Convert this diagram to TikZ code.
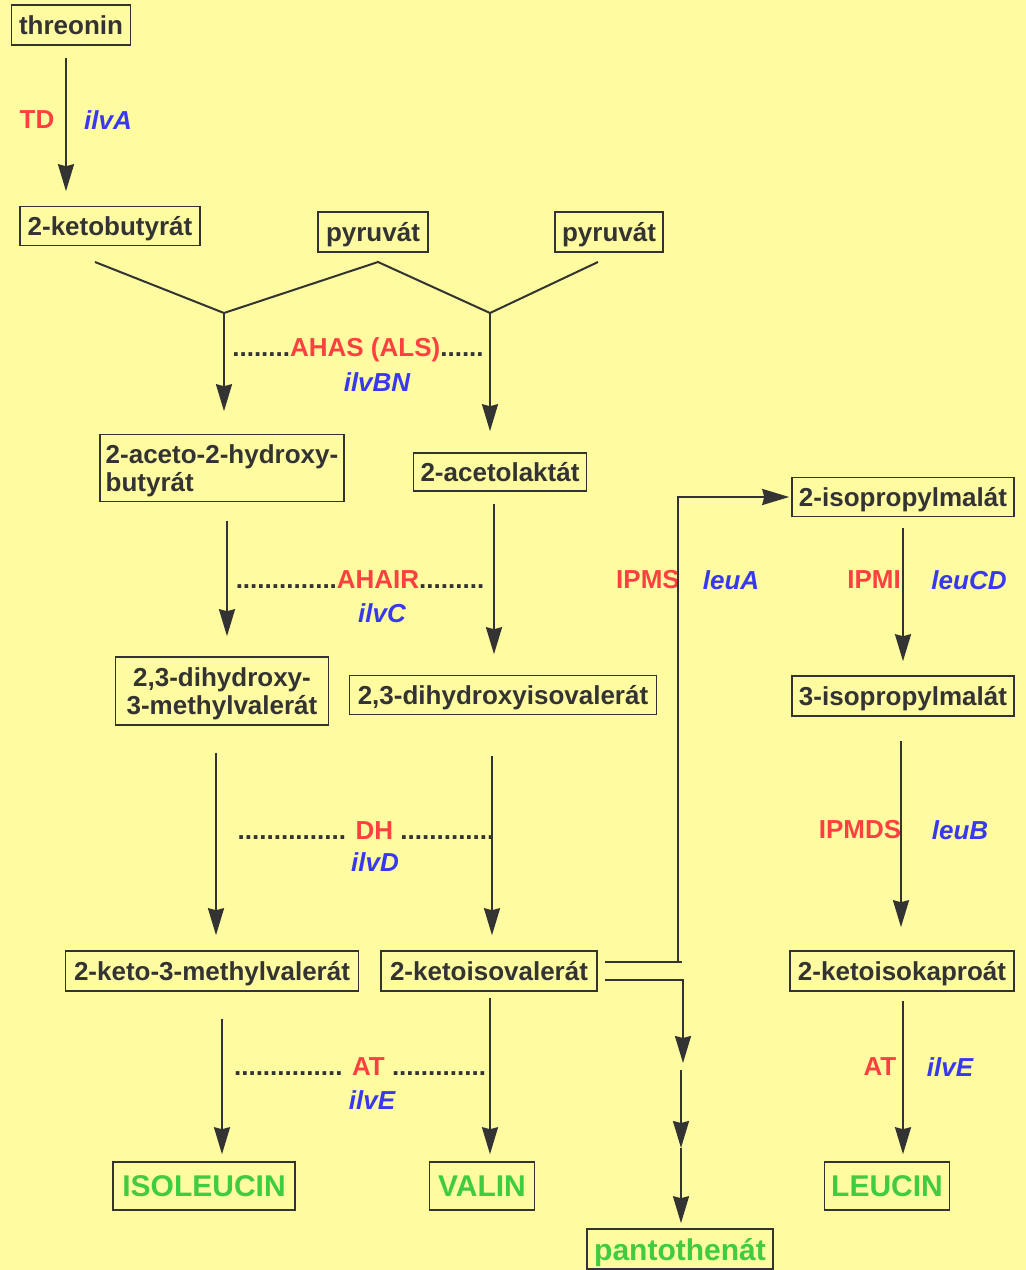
\documentclass[tikz,border=0pt]{standalone}
\usepackage{fontspec}
\setmainfont{Liberation Sans}
\usetikzlibrary{arrows.meta,calc}
\definecolor{bg}{RGB}{255,251,160}
\definecolor{dk}{RGB}{51,51,51}
\definecolor{rd}{RGB}{255,64,64}
\definecolor{bl}{RGB}{56,56,240}
\definecolor{gr}{RGB}{64,204,64}
\tikzset{
  box/.style={draw=dk, line width=1.6pt, inner sep=0pt, text=dk, align=center, text depth=0pt,
    font=\fontsize{26}{27.5}\selectfont\bfseries},
  endbox/.style={box, text=gr, font=\fontsize{30}{34}\selectfont\bfseries},
  enz/.style={text=rd, inner sep=0pt, font=\fontsize{26}{30}\selectfont\bfseries},
  gene/.style={text=bl, inner sep=0pt, font=\fontsize{26}{30}\selectfont\bfseries\itshape},
  dots/.style={text=dk, inner sep=0pt, font=\fontsize{26}{30}\selectfont\bfseries},
  ln/.style={draw=dk, line width=2pt},
  arr/.style={ln, -{Stealth[length=27pt,width=16pt,inset=2pt]}}
}
\begin{document}
\begin{tikzpicture}[x=1pt,y=-1pt]
\fill[bg] (0,0) rectangle (1026,1270);
\useasboundingbox (0,0) rectangle (1026,1270);

% nodes
\node[box, minimum width=119, minimum height=40] (thr) at (71,25) {threonin};
\node[box, minimum width=180, minimum height=39] (kb) at (110,226) {2-ketobutyrát};
\node[box, minimum width=110, minimum height=40] (pyr1) at (373,232) {pyruvát};
\node[box, minimum width=108, minimum height=40] (pyr2) at (609,232) {pyruvát};
\node[box, minimum width=244, minimum height=67, align=left] (ace) at (222,468) {2-aceto-2-hydroxy-\\butyrát};
\node[box, minimum width=173, minimum height=38] (acl) at (500,472) {2-acetolaktát};
\node[box, minimum width=213, minimum height=68] (dhmv) at (222,691) {2,3-dihydroxy-\\3-methylvalerát};
\node[box, minimum width=307, minimum height=39] (dhiv) at (503,695) {2,3-dihydroxyisovalerát};
\node[box, minimum width=293, minimum height=40] (kmv) at (212,971) {2-keto-3-methylvalerát};
\node[box, minimum width=216, minimum height=40] (kiv) at (489,971) {2-ketoisovalerát};
\node[box, minimum width=222, minimum height=39] (ipm2) at (903,497) {2-isopropylmalát};
\node[box, minimum width=222, minimum height=40] (ipm3) at (903,696) {3-isopropylmalát};
\node[box, minimum width=224, minimum height=40] (kic) at (902,971) {2-ketoisokaproát};
\node[endbox, minimum width=182, minimum height=48] (ile) at (204,1186) {ISOLEUCIN};
\node[endbox, minimum width=105, minimum height=48] (val) at (482,1186) {VALIN};
\node[endbox, minimum width=125, minimum height=48] (leu) at (887,1186) {LEUCIN};
\node[endbox, minimum width=186, minimum height=40] (pan) at (680,1249) {pantothenát};

% labels
\node[enz] (tdl) at (37,120) {TD};
\node[gene] (ilvA) at (108,120) {ilvA};
\node[dots] (ahas) at (358,350) {........\textcolor{rd}{AHAS (ALS)}......};
\node[gene] (ilvBN) at (377,382) {ilvBN};
\node[dots] (ahair) at (360,580) {..............\textcolor{rd}{AHAIR}.........};
\node[gene] (ilvC) at (382,613) {ilvC};
\node[dots] (dh) at (366,831) {............... \textcolor{rd}{DH} .............};
\node[gene] (ilvD) at (375,862) {ilvD};
\node[dots] (at1) at (360,1067) {............... \textcolor{rd}{AT} .............};
\node[gene] (ilvE1) at (372,1100) {ilvE};
\node[enz] (ipms) at (648,580) {IPMS};
\node[gene] (leuA) at (731,580) {leuA};
\node[enz] (ipmi) at (874,580) {IPMI};
\node[gene] (leuCD) at (969,580) {leuCD};
\node[enz] (ipmds) at (860,830) {IPMDS};
\node[gene] (leuB) at (960,830) {leuB};
\node[enz] (at2) at (880,1067) {AT};
\node[gene] (ilvE2) at (950,1067) {ilvE};

% coordinates
\coordinate (x1) at (66,0);
\coordinate (v1) at (95,262);
\coordinate (j1) at (224,313);
\coordinate (vp) at (378,262);
\coordinate (j2) at (490,313);
\coordinate (v2) at (598,262);
\coordinate (x4) at (227,0);
\coordinate (x5) at (494,0);
\coordinate (x6) at (216,0);
\coordinate (x7) at (492,0);
\coordinate (x8) at (222,0);
\coordinate (x9) at (490,0);
\coordinate (x10) at (903,0);
\coordinate (x11) at (901,0);
\coordinate (b1) at (605,962);
\coordinate (b2) at (682,962);
\coordinate (bt) at (678,962);
\coordinate (c1) at (605,980);
\coordinate (c3) at (683,1063);
\coordinate (c4) at (681,1070);
\coordinate (c5) at (681,1148);

% connectors
\draw[arr, shorten <=12pt, shorten >=14.5pt] (thr.south -| x1) -- (kb.north -| x1);
\draw[ln, line join=miter] (v1) -- (j1) -- (vp) -- (j2) -- (v2);
\draw[arr, shorten >=22.5pt] (j1) -- (ace.north -| j1);
\draw[arr, shorten >=21pt] (j2) -- (acl.north -| j2);
\draw[arr, shorten <=18.5pt, shorten >=20pt] (ace.south -| x4) -- (dhmv.north -| x4);
\draw[arr, shorten <=12pt, shorten >=20.5pt] (acl.south -| x5) -- (dhiv.north -| x5);
\draw[arr, shorten <=27pt, shorten >=15pt] (dhmv.south -| x6) -- (kmv.north -| x6);
\draw[arr, shorten <=40.5pt, shorten >=15pt] (dhiv.south -| x7) -- (kiv.north -| x7);
\draw[arr, shorten <=27pt, shorten >=7pt] (kmv.south -| x8) -- (ile.north -| x8);
\draw[arr, shorten <=6pt, shorten >=7pt] (kiv.south -| x9) -- (val.north -| x9);
\draw[arr, shorten <=10.5pt, shorten >=14pt] (ipm2.south -| x10) -- (ipm3.north -| x10);
\draw[arr, shorten <=24pt, shorten >=23pt] (ipm3.south -| x11) -- (kic.north -| x11);
\draw[arr, shorten <=9pt, shorten >=7pt] (kic.south -| x10) -- (leu.north -| x10);
\draw[ln] (b1) -- (b2);
\draw[arr, shorten >=2pt] (bt) |- (ipm2.west);
\draw[arr] (c1) -| (c3);
\draw[arr] (c4) -- (c5);
\draw[arr, shorten >=5pt] (c5) -- (pan.north -| c5);
\end{tikzpicture}
\end{document}
